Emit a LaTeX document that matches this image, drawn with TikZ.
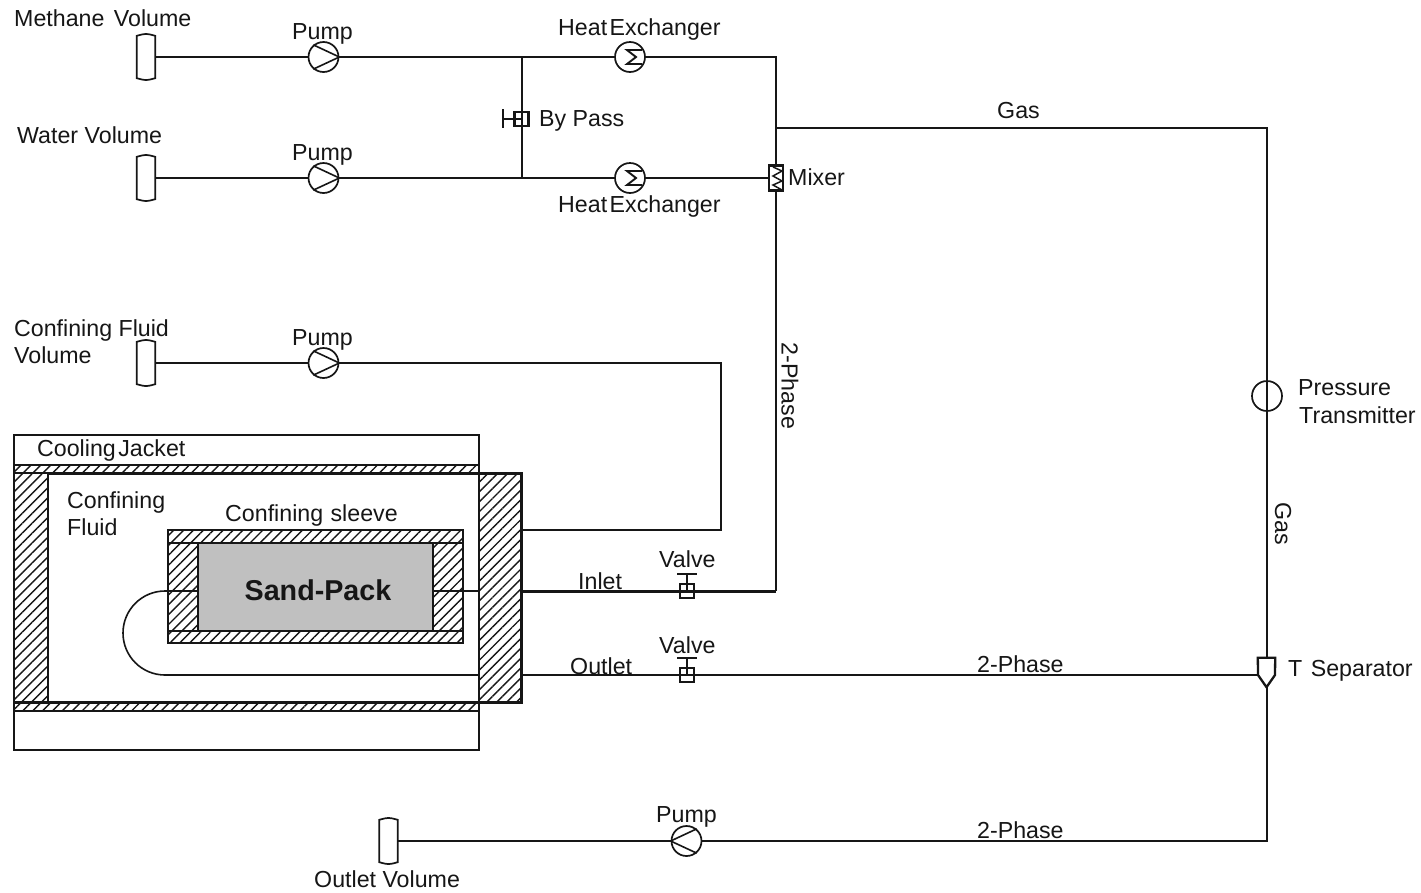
\documentclass[tikz,border=0pt]{standalone}
\usepackage{fontspec}
\setmainfont{Liberation Sans}
\usetikzlibrary{patterns.meta,calc}
\definecolor{ink}{HTML}{161616}
\definecolor{sandgray}{HTML}{C0C0C0}
\tikzset{
  pipe/.style={draw=ink,line width=2.2pt,line join=miter},
  heavypipe/.style={draw=ink,line width=3pt},
  thinpipe/.style={draw=ink,line width=1.6pt},
  wall/.style={draw=ink,line width=2.4pt},
  hatched/.style={draw=ink,line width=2.4pt,pattern={Lines[angle=45,distance=7pt,line width=1.4pt]},pattern color=ink},
  round device/.style={circle,draw=ink,line width=1.7pt,minimum size=30pt,inner sep=0pt},
  box device/.style={rectangle,draw=ink,line width=2.4pt,inner sep=0pt},
  point/.style={inner sep=0pt,minimum size=0pt},
  lbl/.style={anchor=base west,inner sep=0pt,text=ink,font=\fontsize{23.2}{27}\selectfont},
  vlbl/.style={anchor=center,inner sep=0pt,text=ink,rotate=-90,font=\fontsize{23.2}{27}\selectfont},
}
\newcommand{\vesselsym}[3]{%
  \node[point,minimum width=18pt,minimum height=44pt] (#1) at (#2,#3) {};
  \draw[ink,line width=1.7pt] ($(#1.north west)+(0,1)$) .. controls ($(#1.north)+(0,-1.5)$) .. ($(#1.north east)+(0,1)$)
     -- ($(#1.south east)+(0,-1)$) .. controls ($(#1.south)+(0,1.5)$) .. ($(#1.south west)+(0,-1)$) -- cycle;
}
\newcommand{\pumpright}[3]{%
  \node[round device] (#1) at (#2,#3) {};
  \draw[ink,line width=1.6pt] (#1.130) -- (#1.east) -- (#1.230);
}
\newcommand{\pumpleft}[3]{%
  \node[round device] (#1) at (#2,#3) {};
  \draw[ink,line width=1.6pt] (#1.50) -- (#1.west) -- (#1.310);
}
\newcommand{\hxsym}[3]{%
  \node[round device] (#1) at (#2,#3) {};
  \draw[ink,line width=1.9pt] ($(#1)+(12,-7)$) -- ($(#1)+(-3,-7)$) -- ($(#1)+(6,0)$) -- ($(#1)+(-3,7)$) -- ($(#1)+(12,7)$);
}
\newcommand{\valvesym}[3]{%
  \node[box device,minimum size=14.5pt] (#1) at (#2,#3) {};
  \draw[ink,line width=1.8pt] (#1.center) -- ($(#1.center)+(0,-17)$);
  \draw[ink,line width=2.2pt] ($(#1.center)+(-10,-17)$) -- ($(#1.center)+(10,-17)$);
}
\begin{document}
\begin{tikzpicture}[x=1pt,y=-1pt]
\useasboundingbox (0,0) rectangle (1421,892);
\fill[white] (0,0) rectangle (1421,892);

% cooling jacket and vessel
\draw[wall] (14,435) rectangle (479,750);
\draw[hatched] (14,465) rectangle (479,473);
\draw[hatched] (14,702) rectangle (479,711);
\draw[hatched] (14,473) rectangle (48,702);
\draw[hatched] (479,473) rectangle (521,702);
\draw[wall,line width=3pt] (48,473) -- (521,473) -- (521,702) -- (14,702);

% sleeve and sand-pack
\draw[hatched] (168,530) rectangle (463,543);
\draw[hatched] (168,631) rectangle (463,643);
\draw[hatched] (168,543) rectangle (198,631);
\draw[hatched] (433,543) rectangle (463,631);
\node[rectangle,draw=ink,line width=2.4pt,fill=sandgray,minimum width=235pt,minimum height=88pt,inner sep=0pt] (sand) at (315.5,587) {};
\node[anchor=base,inner sep=0pt,text=ink,font=\fontsize{28.7}{32}\selectfont\bfseries] (sandlabel) at (318,600) {Sand-Pack};

% named points
\coordinate (portR) at (479,591);
\coordinate (inletOut) at (521,591);
\coordinate (outletIn) at (479,675);
\coordinate (outletOut) at (521,675);
\coordinate (utop) at (165,591);
\coordinate (sandL) at (198,591);
\coordinate (sandR) at (433,591);
\coordinate (cfPort) at (521,530);
\coordinate (cfCorner) at (721,530);
\coordinate (cfTop) at (721,363);
\coordinate (topJ) at (522,57);
\coordinate (botJ) at (522,178);
\coordinate (topCorner) at (776,57);
\coordinate (gasJ) at (776,128);
\coordinate (gasCorner) at (1267,128);
\coordinate (inCorner) at (776,591);
\coordinate (botCorner) at (1267,841);
\coordinate (sepW) at (1258,675);
\coordinate (sepN) at (1267,658);
\coordinate (sepS) at (1267,687);

% equipment
\vesselsym{methane}{146}{57}
\vesselsym{water}{146}{178}
\vesselsym{confluid}{146}{363}
\vesselsym{outvol}{388.5}{841}
\pumpright{pumpA}{323.5}{57}
\pumpright{pumpB}{323.5}{178}
\pumpright{pumpC}{323.5}{363}
\pumpleft{pumpD}{686.5}{841}
\hxsym{hxA}{630}{57}
\hxsym{hxB}{630}{178}
\node[round device] (pt) at (1267,396) {};
\node[box device,minimum width=14pt,minimum height=25pt] (mixer) at (776,178) {};
\draw[ink,line width=1.5pt] (773,167) -- (782,171) -- (773,176) -- (782,181) -- (773,185) -- (782,190);
\node[box device,minimum size=14pt] (bypass) at (521.5,119) {};
\coordinate (bpStem) at (503,119);
\draw[ink,line width=1.9pt] (bypass.center) -- (bpStem);
\draw[ink,line width=2.4pt] (503,109) -- (503,128);
\valvesym{valveA}{687}{591}
\valvesym{valveB}{687}{675}
\node[point,minimum width=17pt,minimum height=29pt] (sep) at (1266.5,672.5) {};
\draw[ink,line width=2.3pt] (sep.north west) -- (sep.north east) -- (1275,675) -- (sep.south) -- (1258,675) -- cycle;

% pipes
\draw[pipe] (methane.east) -- (pumpA.west);
\draw[pipe] (pumpA.east) -- (hxA.west);
\draw[pipe] (hxA.east) -- (topCorner) -- (gasJ);
\draw[pipe] (gasJ) -- (gasCorner) -- (sepN);
\draw[pipe] (water.east) -- (pumpB.west);
\draw[heavypipe,line width=2.7pt] (pumpB.east) -- (botJ) -- (hxB.west);
\draw[pipe] (hxB.east) -- (mixer.west);
\draw[pipe] (topJ) -- (botJ);
\draw[pipe] (gasJ) -- (mixer.north);
\draw[pipe] (mixer.south) -- (inCorner);
\draw[heavypipe] (inletOut) -- (valveA.west) -- (valveA.east) -- (inCorner);
\draw[pipe] (confluid.east) -- (pumpC.west);
\draw[pipe] (pumpC.east) -- (cfTop) -- (cfCorner) -- (cfPort);
\draw[pipe] (outletOut) -- (valveB.west) -- (valveB.east) -- (sepW);
\draw[pipe,line width=2.8pt] (sepS) -- (botCorner) -- (pumpD.east);
\draw[pipe] (pumpD.west) -- (outvol.east);
\draw[thinpipe] (sandR) -- (portR);
\draw[thinpipe] (sandL) -- (utop) arc[start angle=270,end angle=90,radius=42] -- (outletIn);

% labels
\node[lbl] (t1) at (14,26) {Methane\hspace{3pt} Volume};
\node[lbl] (t2) at (292,39) {Pump};
\node[lbl] (t3) at (558,35) {\spaceskip=2.5pt Heat Exchanger};
\node[lbl] (t4) at (539,126) {By Pass};
\node[lbl] (t5) at (17,143) {Water Volume};
\node[lbl] (t6) at (292,160) {Pump};
\node[lbl] (t7) at (788,185) {Mixer};
\node[lbl] (t8) at (558,212) {\spaceskip=2.5pt Heat Exchanger};
\node[lbl] (t9) at (997,118) {Gas};
\node[lbl] (t10) at (14,336) {Confining Fluid};
\node[lbl] (t11) at (14,363) {Volume};
\node[lbl] (t12) at (292,345) {Pump};
\node[vlbl] (t13) at (790,386) {2-Phase};
\node[lbl] (t14) at (1298,395) {Pressure};
\node[lbl] (t15) at (1299,423) {Transmitter};
\node[vlbl] (t16) at (1283,524) {Gas};
\node[lbl] (t17) at (37,456) {\spaceskip=2.5pt Cooling Jacket};
\node[lbl] (t18) at (67,508) {Confining};
\node[lbl] (t19) at (67,535) {Fluid};
\node[lbl] (t20) at (225,521) {Confining\hspace{1pt} sleeve};
\node[lbl] (t21) at (659,567) {Valve};
\node[lbl] (t22) at (578,589) {Inlet};
\node[lbl] (t23) at (570,674) {Outlet};
\node[lbl] (t24) at (659,653) {Valve};
\node[lbl] (t25) at (977,672) {2-Phase};
\node[lbl] (t26) at (1288,676) {T\hspace{2pt} Separator};
\node[lbl] (t27) at (656,822) {Pump};
\node[lbl] (t28) at (977,838) {2-Phase};
\node[lbl] (t29) at (314,887) {Outlet Volume};
\end{tikzpicture}
\end{document}
